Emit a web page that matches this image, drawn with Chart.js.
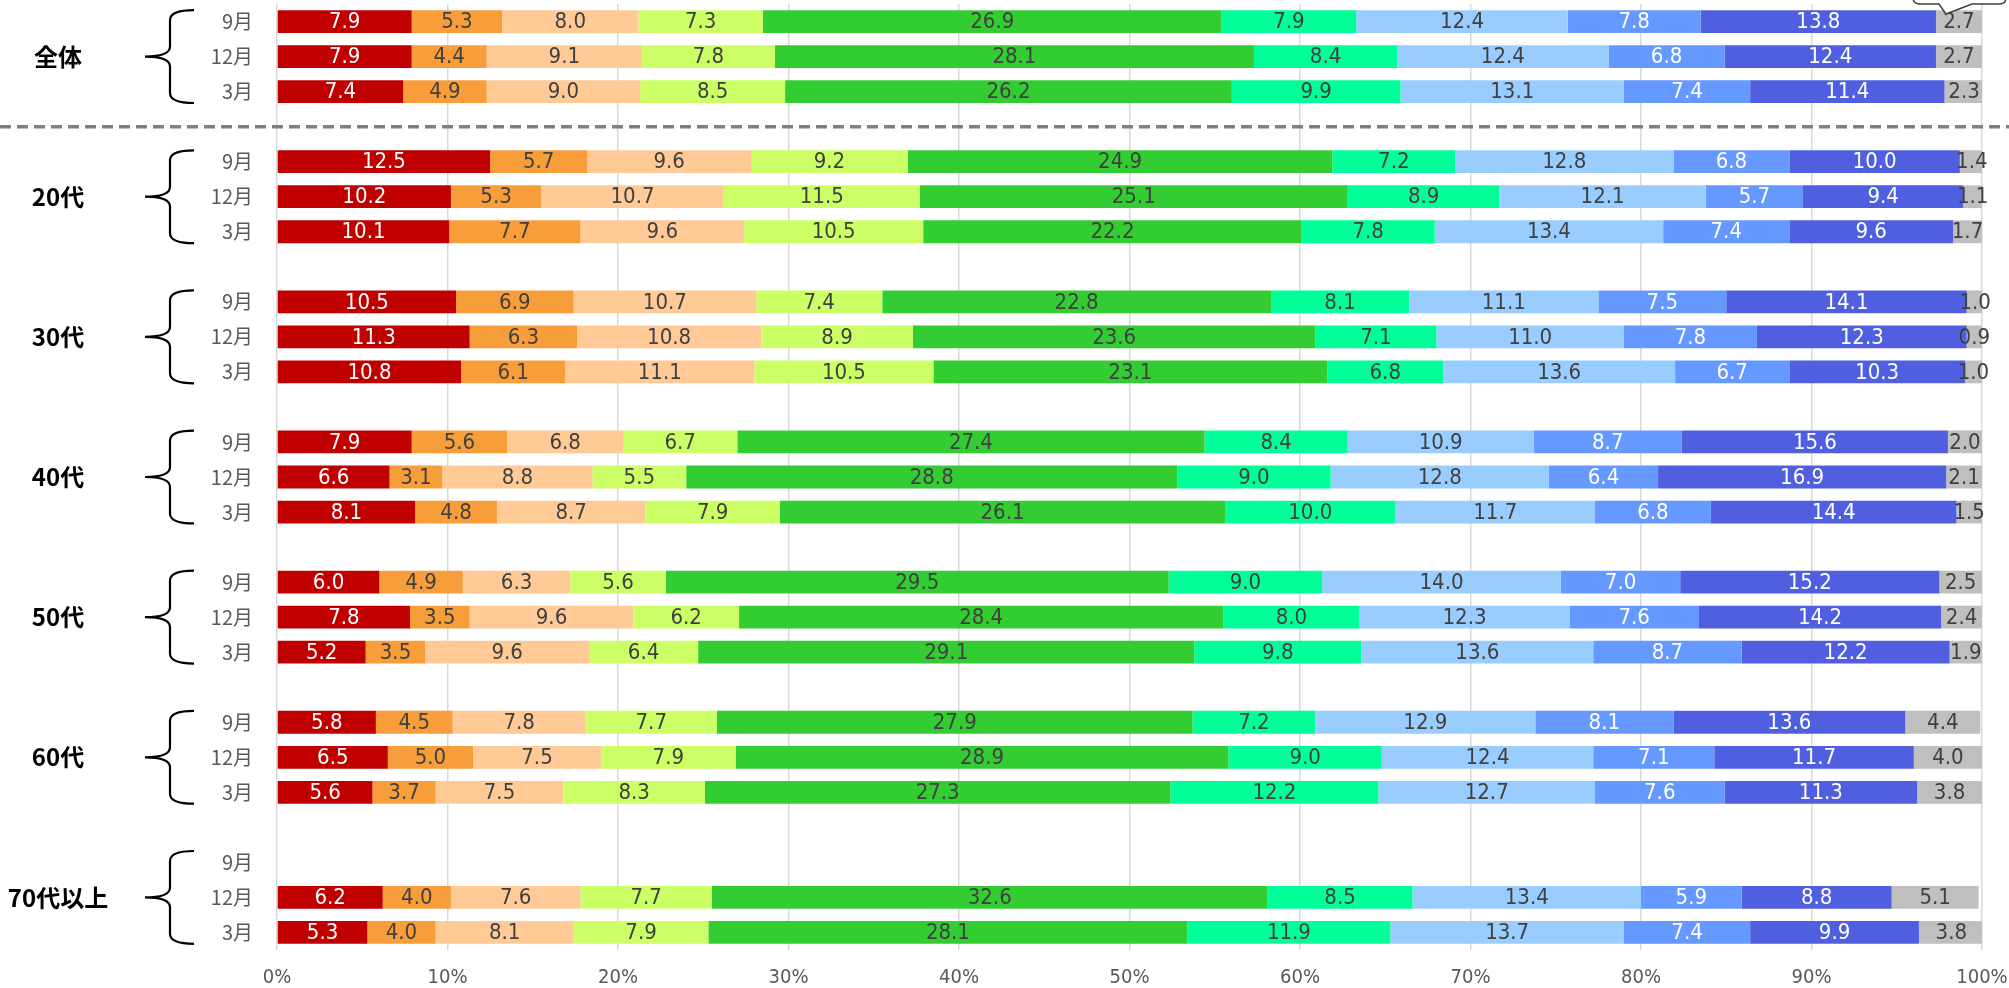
<!DOCTYPE html>
<html>
<head>
<meta charset="utf-8">
<script src="https://cdn.jsdelivr.net/npm/chart.js@4/dist/chart.umd.min.js"></script>
<style>
  html, body { margin: 0; padding: 0; background: #fff; }
  #wrap { width: 2009px; height: 988px; }
</style>
</head>
<body>
<div id="wrap"><canvas id="chart" width="2009" height="988"></canvas></div>
<script>
// group labels and survey months
var groups = ['全体', '20代', '30代', '40代', '50代', '60代', '70代以上'];
var months = ['9月', '12月', '3月'];
var xTicks = [0, 10, 20, 30, 40, 50, 60, 70, 80, 90, 100];

// values per group: rows = 9月, 12月, 3月 ; 10 segments each (%)
var zentai = [
  [7.9, 5.3, 8.0, 7.3, 26.9, 7.9, 12.4, 7.8, 13.8, 2.7],
  [7.9, 4.4, 9.1, 7.8, 28.1, 8.4, 12.4, 6.8, 12.4, 2.7],
  [7.4, 4.9, 9.0, 8.5, 26.2, 9.9, 13.1, 7.4, 11.4, 2.3]
];
var age20 = [
  [12.5, 5.7, 9.6, 9.2, 24.9, 7.2, 12.8, 6.8, 10.0, 1.4],
  [10.2, 5.3, 10.7, 11.5, 25.1, 8.9, 12.1, 5.7, 9.4, 1.1],
  [10.1, 7.7, 9.6, 10.5, 22.2, 7.8, 13.4, 7.4, 9.6, 1.7]
];
var age30 = [
  [10.5, 6.9, 10.7, 7.4, 22.8, 8.1, 11.1, 7.5, 14.1, 1.0],
  [11.3, 6.3, 10.8, 8.9, 23.6, 7.1, 11.0, 7.8, 12.3, 0.9],
  [10.8, 6.1, 11.1, 10.5, 23.1, 6.8, 13.6, 6.7, 10.3, 1.0]
];
var age40 = [
  [7.9, 5.6, 6.8, 6.7, 27.4, 8.4, 10.9, 8.7, 15.6, 2.0],
  [6.6, 3.1, 8.8, 5.5, 28.8, 9.0, 12.8, 6.4, 16.9, 2.1],
  [8.1, 4.8, 8.7, 7.9, 26.1, 10.0, 11.7, 6.8, 14.4, 1.5]
];
var age50 = [
  [6.0, 4.9, 6.3, 5.6, 29.5, 9.0, 14.0, 7.0, 15.2, 2.5],
  [7.8, 3.5, 9.6, 6.2, 28.4, 8.0, 12.3, 7.6, 14.2, 2.4],
  [5.2, 3.5, 9.6, 6.4, 29.1, 9.8, 13.6, 8.7, 12.2, 1.9]
];
var age60 = [
  [5.8, 4.5, 7.8, 7.7, 27.9, 7.2, 12.9, 8.1, 13.6, 4.4],
  [6.5, 5.0, 7.5, 7.9, 28.9, 9.0, 12.4, 7.1, 11.7, 4.0],
  [5.6, 3.7, 7.5, 8.3, 27.3, 12.2, 12.7, 7.6, 11.3, 3.8]
];
var age70 = [
  null,
  [6.2, 4.0, 7.6, 7.7, 32.6, 8.5, 13.4, 5.9, 8.8, 5.1],
  [5.3, 4.0, 8.1, 7.9, 28.1, 11.9, 13.7, 7.4, 9.9, 3.8]
];
var groupRows = [zentai, age20, age30, age40, age50, age60, age70];

var colors = ['#C00000', '#F79E3B', '#FFCA96', '#CCFF66', '#33CC33',
              '#00FF99', '#99CCFF', '#6699FF', '#505FDF', '#BFBFBF'];
var whiteText = [0, 7, 8];

// build category rows with an empty slot between groups
var labels = [];
var rows = [];
var groupIdx = [];
groups.forEach(function (g, gi) {
  if (gi > 0) { labels.push(''); rows.push(null); }
  var first = labels.length;
  months.forEach(function (m, mi) {
    labels.push(m);
    rows.push(groupRows[gi][mi]);
  });
  groupIdx.push(first);
});

var datasets = colors.map(function (c, si) {
  return {
    label: String(si + 1),
    data: rows.map(function (r) { return r ? r[si] : null; }),
    backgroundColor: c,
    borderWidth: 0,
    barPercentage: 0.65,
    categoryPercentage: 1.0
  };
});

var FONT = "'Liberation Sans Narrow', 'DejaVu Sans Condensed', 'Noto Sans CJK JP', sans-serif";
var JP = "'Noto Sans CJK JP', sans-serif";

var decor = {
  id: 'decor',
  afterDatasetsDraw: function (chart) {
    var ctx = chart.ctx;
    var y = chart.scales.y;
    var half = (y.getPixelForValue(1) - y.getPixelForValue(0)) * 0.65 / 2;

    // value labels
    ctx.save();
    ctx.font = '22px ' + FONT;
    ctx.textAlign = 'center';
    ctx.textBaseline = 'middle';
    chart.data.datasets.forEach(function (ds, si) {
      var meta = chart.getDatasetMeta(si);
      meta.data.forEach(function (el, i) {
        var v = ds.data[i];
        if (v === null || v === undefined) return;
        var p = el.getProps(['x', 'y', 'base'], true);
        ctx.fillStyle = whiteText.indexOf(si) >= 0 ? '#ffffff' : '#404040';
        ctx.fillText(v.toFixed(1), (p.x + p.base) / 2, p.y + 1);
      });
    });
    ctx.restore();

    // dashed separator below 全体
    ctx.save();
    ctx.strokeStyle = '#808080';
    ctx.lineWidth = 3.5;
    ctx.setLineDash([11, 6]);
    var sy = y.getPixelForValue(3);
    ctx.beginPath();
    ctx.moveTo(0, sy);
    ctx.lineTo(chart.width, sy);
    ctx.stroke();
    ctx.restore();

    // braces and group names
    ctx.save();
    ctx.strokeStyle = '#000';
    ctx.lineWidth = 2.2;
    groupIdx.forEach(function (fi, gi) {
      var top = y.getPixelForValue(fi) - half;
      var mid = y.getPixelForValue(fi + 1);
      var bot = y.getPixelForValue(fi + 2) + half;
      var xs = 170, xe = 194, xt = 145;
      ctx.beginPath();
      ctx.moveTo(xe, top);
      ctx.quadraticCurveTo(xs, top, xs, top + 10);
      ctx.lineTo(xs, mid - 10);
      ctx.quadraticCurveTo(xs, mid, xt, mid);
      ctx.quadraticCurveTo(xs, mid, xs, mid + 10);
      ctx.lineTo(xs, bot - 10);
      ctx.quadraticCurveTo(xs, bot, xe, bot);
      ctx.stroke();

      ctx.fillStyle = '#000';
      ctx.font = 'bold 24px ' + JP;
      ctx.textAlign = 'center';
      ctx.textBaseline = 'middle';
      ctx.fillText(groups[gi], 58, mid);
    });
    ctx.restore();

    // callout cut at the top right
    ctx.save();
    ctx.fillStyle = '#fff';
    ctx.strokeStyle = '#404040';
    ctx.lineWidth = 1.5;
    ctx.beginPath();
    ctx.moveTo(1913, -10);
    ctx.lineTo(1913, -2);
    ctx.quadraticCurveTo(1913, 4, 1921, 4);
    ctx.lineTo(1939, 4);
    ctx.lineTo(1946, 14);
    ctx.lineTo(1972, 4);
    ctx.lineTo(1999, 4);
    ctx.quadraticCurveTo(2006, 4, 2006, -2);
    ctx.lineTo(2006, -10);
    ctx.closePath();
    ctx.fill();
    ctx.stroke();
    ctx.restore();
  }
};

new Chart(document.getElementById('chart').getContext('2d'), {
  type: 'bar',
  data: { labels: labels, datasets: datasets },
  options: {
    indexAxis: 'y',
    responsive: false,
    animation: false,
    layout: { padding: { top: 4, right: 27, left: 0, bottom: 0 } },
    plugins: {
      legend: { display: false },
      tooltip: { enabled: false }
    },
    scales: {
      x: {
        stacked: true,
        min: 0,
        max: 100,
        afterBuildTicks: function (s) {
          s.ticks = xTicks.map(function (v) { return { value: v }; });
        },
        afterFit: function (s) {
          s.height = 38;
          s.paddingLeft = 0;
          s.paddingRight = 0;
        },
        grid: { color: '#D9D9D9', lineWidth: 1.5, drawTicks: false },
        border: { display: false },
        ticks: {
          padding: 16,
          color: '#595959',
          font: { family: FONT, size: 20 },
          callback: function (v) { return v + '%'; }
        }
      },
      y: {
        stacked: true,
        afterFit: function (s) {
          s.width = 277;
          s.paddingTop = 0;
          s.paddingBottom = 0;
        },
        grid: { display: false, drawTicks: false },
        border: { display: false },
        ticks: {
          autoSkip: false,
          padding: 24,
          color: '#595959',
          font: { family: JP, size: 20 }
        }
      }
    }
  },
  plugins: [decor]
});
</script>
</body>
</html>
